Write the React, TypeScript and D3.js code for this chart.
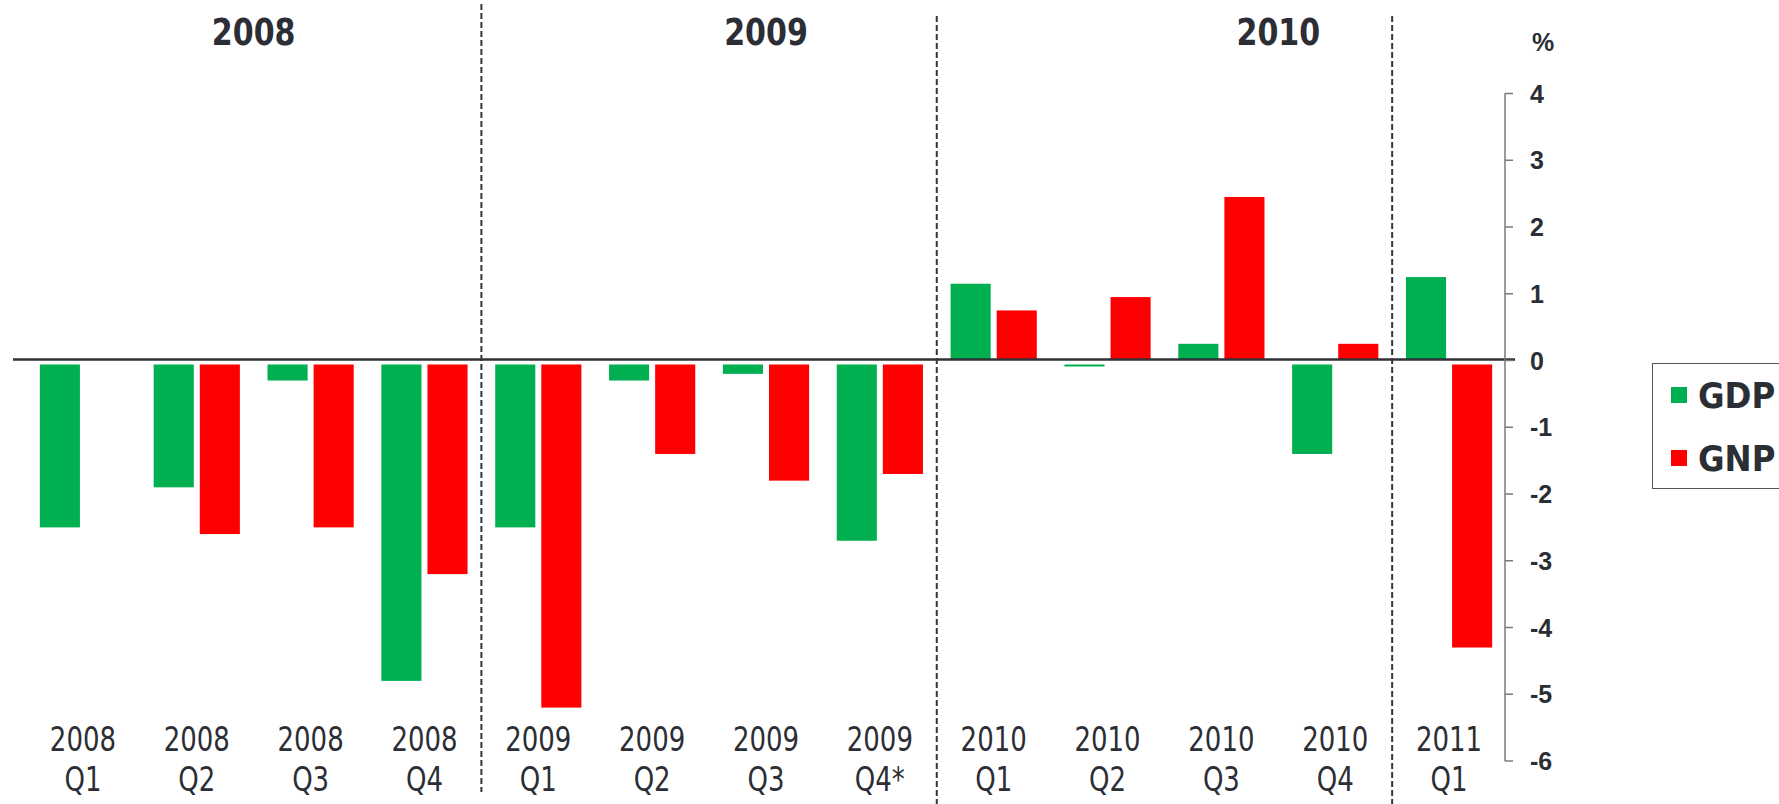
import React from "react";
import * as d3 from "d3";

// quarters on the x axis (two-line labels)
const catYears = ["2008", "2008", "2008", "2008", "2009", "2009", "2009", "2009", "2010", "2010", "2010", "2010", "2011"];
const catQuarters = ["Q1", "Q2", "Q3", "Q4", "Q1", "Q2", "Q3", "Q4*", "Q1", "Q2", "Q3", "Q4", "Q1"];
const categories = catYears.map((y, i) => `${y} ${catQuarters[i]}`);

// quarter-on-quarter change, %
const gdp = [-2.5, -1.9, -0.3, -4.8, -2.5, -0.3, -0.2, -2.7, 1.15, -0.05, 0.25, -1.4, 1.25];
const gnp = [null, -2.6, -2.5, -3.2, -5.2, -1.4, -1.8, -1.7, 0.75, 0.95, 2.45, 0.25, -4.3];

const series = ["GDP", "GNP"];
const seriesValues = [gdp, gnp];
const colors = ["#00B050", "#FF0000"];

const yTicks = [4, 3, 2, 1, 0, -1, -2, -3, -4, -5, -6];

// year headers, centred between the two quarters named
const headerLabels = ["2008", "2009", "2010"];
const headerSpans = [
  ["2008 Q2", "2008 Q3"],
  ["2009 Q3", "2009 Q3"],
  ["2010 Q3", "2010 Q4"],
];
// dashed separators sit before these quarters
const dividers = ["2009 Q1", "2010 Q1", "2011 Q1"];

const W = 1779;
const H = 804;
const ink = "#2b2e34";
const condensed = "'DejaVu Sans Condensed', 'DejaVu Sans', sans-serif";

export default function App() {
  const x = d3.scaleBand().domain(categories).range([26, 1506]).padding(0);
  const xs = d3
    .scaleBand()
    .domain(series)
    .range([0, x.bandwidth()])
    .paddingInner(0.13)
    .paddingOuter(0.3);
  const y = d3.scaleLinear().domain([-6, 4]).range([761, 93.5]);
  const y0 = y(0);
  const axisX = 1505;
  const mid = (c) => x(c) + x.bandwidth() / 2;

  return (
    <svg
      width={W}
      height={H}
      style={{ position: "absolute", left: 0, top: 0, background: "#fff" }}
    >
      {/* bars */}
      {series.map((s, si) =>
        seriesValues[si].map((v, i) => {
          if (v === null) return null;
          const bx = x(categories[i]) + xs(s);
          const yv = y(v);
          const top = v >= 0 ? yv : y0 + 4;
          const h = v >= 0 ? y0 - 1 - yv : Math.max(2, yv - y0 - 4);
          return (
            <rect
              key={`${s}-${i}`}
              x={bx}
              y={top}
              width={xs.bandwidth()}
              height={h}
              fill={colors[si]}
            />
          );
        })
      )}

      {/* zero line */}
      <line x1={13} x2={1515} y1={y0 - 1} y2={y0 - 1} stroke="#2f3136" strokeWidth={2.5} />

      {/* dashed year separators */}
      {dividers.map((c, i) => (
        <line
          key={c}
          x1={x(c)}
          x2={x(c)}
          y1={i === 0 ? 4 : 16}
          y2={i === 0 ? 792 : 804}
          stroke="#33363b"
          strokeWidth={2}
          strokeDasharray="6,3"
        />
      ))}

      {/* year headers */}
      {headerLabels.map((t, i) => (
        <text
          key={t}
          transform={`translate(${(mid(headerSpans[i][0]) + mid(headerSpans[i][1])) / 2},45) scale(0.88,1)`}
          textAnchor="middle"
          fontFamily={condensed}
          fontWeight="bold"
          fontSize={38}
          fill={ink}
        >
          {t}
        </text>
      ))}

      {/* category labels */}
      {categories.map((c, i) => (
        <text
          key={c}
          transform={`translate(${mid(c)},0) scale(0.85,1)`}
          textAnchor="middle"
          fontFamily={condensed}
          fontSize={34}
          fill={ink}
        >
          <tspan x={0} y={751}>
            {catYears[i]}
          </tspan>
          <tspan x={0} y={791}>
            {catQuarters[i]}
          </tspan>
        </text>
      ))}

      {/* right value axis */}
      <line x1={axisX} x2={axisX} y1={y(4)} y2={y(-6)} stroke="#7a7a7a" strokeWidth={1.5} />
      {yTicks.map((t) => (
        <g key={t}>
          <line x1={axisX} x2={axisX + 8} y1={y(t)} y2={y(t)} stroke="#7a7a7a" strokeWidth={1.5} />
          <text
            x={1530}
            y={y(t) + 9}
            fontFamily="'Liberation Sans', Arial, sans-serif"
            fontWeight="bold"
            fontSize={25}
            fill={ink}
          >
            {t}
          </text>
        </g>
      ))}
      <text
        x={1532}
        y={51}
        fontFamily="'Liberation Sans', Arial, sans-serif"
        fontWeight="bold"
        fontSize={25}
        fill={ink}
      >
        %
      </text>

      {/* legend */}
      <rect x={1652.5} y={363.5} width={140} height={125} fill="#fff" stroke="#555" strokeWidth={1} />
      {series.map((s, i) => (
        <g key={s}>
          <rect x={1671} y={387 + i * 63} width={16} height={16} fill={colors[i]} />
          <text
            x={1698}
            y={408 + i * 63}
            fontFamily={condensed}
            fontWeight="bold"
            fontSize={36}
            fill={ink}
          >
            {s}
          </text>
        </g>
      ))}
    </svg>
  );
}
